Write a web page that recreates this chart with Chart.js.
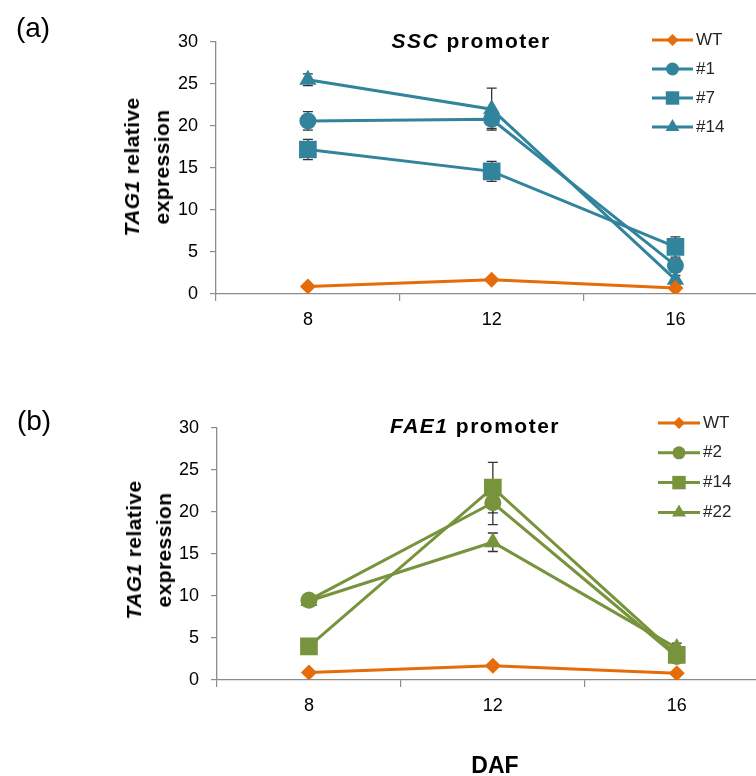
<!DOCTYPE html>
<html>
<head>
<meta charset="utf-8">
<script src="https://cdn.jsdelivr.net/npm/chart.js@4.4.1/dist/chart.umd.min.js"></script>
<style>
  html, body { margin: 0; padding: 0; background: #fff; }
  body { width: 756px; height: 776px; position: relative; overflow: hidden;
         font-family: "Liberation Sans", Arial, sans-serif; }
  canvas { position: absolute; left: 0; }
  .lbl { position: absolute; transform: translate(-50%, -50%); white-space: nowrap; color: #000; line-height: 1; }
  .panel { font-size: 28px; }
  .ttl { font-size: 21px; font-weight: bold; letter-spacing: 1.5px; }
  .ytitle { font-size: 21px; font-weight: bold; text-align: center; line-height: 30px;
            transform: translate(-50%, -50%) rotate(-90deg); letter-spacing: 0.4px; }
  .daf { font-size: 23px; font-weight: bold; }
</style>
</head>
<body>
<canvas id="chartA" width="772" height="340" style="top:0"></canvas>
<canvas id="chartB" width="772" height="396" style="top:380px"></canvas>

<div class="lbl panel" style="left:33px; top:28px">(a)</div>
<div class="lbl ttl" style="left:471px; top:40px"><i>SSC</i> promoter</div>
<div class="lbl ytitle" style="left:147px; top:167px"><i>TAG1</i> relative<br>expression</div>

<div class="lbl panel" style="left:34px; top:421px">(b)</div>
<div class="lbl ttl" style="left:475px; top:425px"><i>FAE1</i> promoter</div>
<div class="lbl ytitle" style="left:149px; top:550px"><i>TAG1</i> relative<br>expression</div>

<div class="lbl daf" style="left:495px; top:765px">DAF</div>

<script>
// days after flowering
const days = [8, 12, 16];
const xLabelled = [8, 12, 16];

// (a) SSC promoter lines
const sscNames = ['WT', '#1', '#7', '#14'];
const sscWT = [0.9, 1.7, 0.7];
const ssc1 = [20.6, 20.8, 3.4];
const ssc7 = [17.2, 14.6, 5.6];
const ssc14 = [25.5, 22.0, 1.7];
const sscErrWT = [0, 0, 0];
const sscErr1 = [1.1, 1.1, 0.8];
const sscErr7 = [1.2, 1.2, 1.2];
const sscErr14 = [0.7, 2.5, 0.5];

// (b) FAE1 promoter lines
const faeNames = ['WT', '#2', '#14', '#22'];
const faeWT = [0.9, 1.7, 0.8];
const fae2 = [9.5, 21.1, 2.8];
const fae14 = [4.0, 22.9, 3.0];
const fae22 = [9.4, 16.4, 3.8];
const faeErrWT = [0, 0, 0];
const faeErr2 = [0.7, 2.6, 0.5];
const faeErr14 = [0.5, 3.0, 0.6];
const faeErr22 = [0.6, 1.1, 0.6];

const ORANGE = '#E46C0A';
const TEAL = '#31849B';
const GREEN = '#77933C';
const AXIS = '#8c8c8c';
const FONT = '"Liberation Sans", Arial, sans-serif';

// marker look per series slot: diamond, circle, square, triangle
const styles = [
  { pointStyle: 'rectRot', radius: 8, legendRadius: 6 },
  { pointStyle: 'circle', radius: 8.5, legendRadius: 6.5 },
  { pointStyle: 'rect', radius: 12.5, legendRadius: 9.5 },
  { pointStyle: 'triangle', radius: 10, legendRadius: 8 }
];

function toPoints(values) {
  return values.map((v, i) => ({ x: days[i], y: v }));
}

function makeDatasets(names, series, errs, color) {
  return names.map((name, k) => {
    const c = k === 0 ? ORANGE : color;
    return {
      label: name,
      data: toPoints(series[k]),
      errors: errs[k],
      borderColor: c,
      backgroundColor: c,
      borderWidth: 3,
      pointStyle: styles[k].pointStyle,
      pointRadius: styles[k].radius,
      pointHoverRadius: styles[k].radius,
      pointBorderWidth: 0,
      legendRadius: styles[k].legendRadius,
      tension: 0
    };
  });
}

// vertical error bars with caps, drawn under the markers
const errorBars = {
  id: 'errorBars',
  beforeDatasetsDraw(chart) {
    const ctx = chart.ctx;
    const xs = chart.scales.x, ys = chart.scales.y;
    ctx.save();
    ctx.strokeStyle = '#333';
    ctx.lineWidth = 1.3;
    chart.data.datasets.forEach(ds => {
      (ds.errors || []).forEach((e, i) => {
        if (!e) return;
        const p = ds.data[i];
        const x = xs.getPixelForValue(p.x);
        const yt = ys.getPixelForValue(p.y + e);
        const yb = ys.getPixelForValue(p.y - e);
        ctx.beginPath();
        ctx.moveTo(x, yt); ctx.lineTo(x, yb);
        ctx.moveTo(x - 5, yt); ctx.lineTo(x + 5, yt);
        ctx.moveTo(x - 5, yb); ctx.lineTo(x + 5, yb);
        ctx.stroke();
      });
    });
    ctx.restore();
  }
};

// line + marker legend sitting inside the plot, top right
const sideLegend = {
  id: 'sideLegend',
  afterDraw(chart, args, o) {
    const ctx = chart.ctx;
    chart.data.datasets.forEach((ds, i) => {
      const y = o.top + i * o.gap;
      const cx = (o.x0 + o.x1) / 2;
      ctx.save();
      ctx.strokeStyle = ds.borderColor;
      ctx.lineWidth = 3;
      ctx.beginPath();
      ctx.moveTo(o.x0, y);
      ctx.lineTo(o.x1, y);
      ctx.stroke();
      ctx.fillStyle = ds.backgroundColor;
      Chart.helpers.drawPoint(ctx, {
        pointStyle: ds.pointStyle, radius: ds.legendRadius, borderWidth: 0, rotation: 0
      }, cx, y);
      ctx.fillStyle = '#262626';
      ctx.font = '17px ' + FONT;
      ctx.textBaseline = 'middle';
      ctx.textAlign = 'left';
      ctx.fillText(ds.label, o.x1 + 3, y);
      ctx.restore();
    });
  }
};

function makeChart(id, datasets, g) {
  return new Chart(document.getElementById(id), {
    type: 'line',
    data: { datasets: datasets },
    plugins: [errorBars, sideLegend],
    options: {
      responsive: false,
      animation: false,
      events: [],
      layout: { padding: { top: g.top, left: 0, right: 0, bottom: 0 } },
      plugins: {
        legend: { display: false },
        tooltip: { enabled: false },
        sideLegend: g.legend
      },
      scales: {
        x: {
          type: 'linear',
          min: 6,
          max: g.xMax,
          afterFit: s => { s.height = g.xh; },
          ticks: {
            stepSize: 2,
            includeBounds: false,
            autoSkip: false,
            maxRotation: 0,
            color: '#000',
            padding: 8,
            font: { size: 18, family: FONT },
            callback: v => xLabelled.includes(v) ? String(v) : ''
          },
          grid: {
            drawOnChartArea: false,
            tickLength: 7,
            lineWidth: 1.2,
            color: c => (c.tick && xLabelled.includes(c.tick.value)) ? 'rgba(0,0,0,0)' : AXIS
          },
          border: { color: AXIS, width: 1.3 }
        },
        y: {
          min: 0,
          max: 30,
          afterFit: s => { s.width = g.left; },
          ticks: {
            stepSize: 5,
            color: '#000',
            padding: 12,
            font: { size: 18, family: FONT }
          },
          grid: { drawOnChartArea: false, tickLength: 6, lineWidth: 1.2, color: AXIS },
          border: { color: AXIS, width: 1.3 }
        }
      }
    }
  });
}

makeChart('chartA',
  makeDatasets(sscNames, [sscWT, ssc1, ssc7, ssc14], [sscErrWT, sscErr1, sscErr7, sscErr14], TEAL),
  { top: 42, xh: 46, left: 216, xMax: 17.83,
    legend: { x0: 652, x1: 693, top: 40, gap: 29 } });

makeChart('chartB',
  makeDatasets(faeNames, [faeWT, fae2, fae14, fae22], [faeErrWT, faeErr2, faeErr14, faeErr22], GREEN),
  { top: 48, xh: 96, left: 217, xMax: 17.8,
    legend: { x0: 658, x1: 700, top: 43, gap: 29.8 } });
</script>
</body>
</html>
